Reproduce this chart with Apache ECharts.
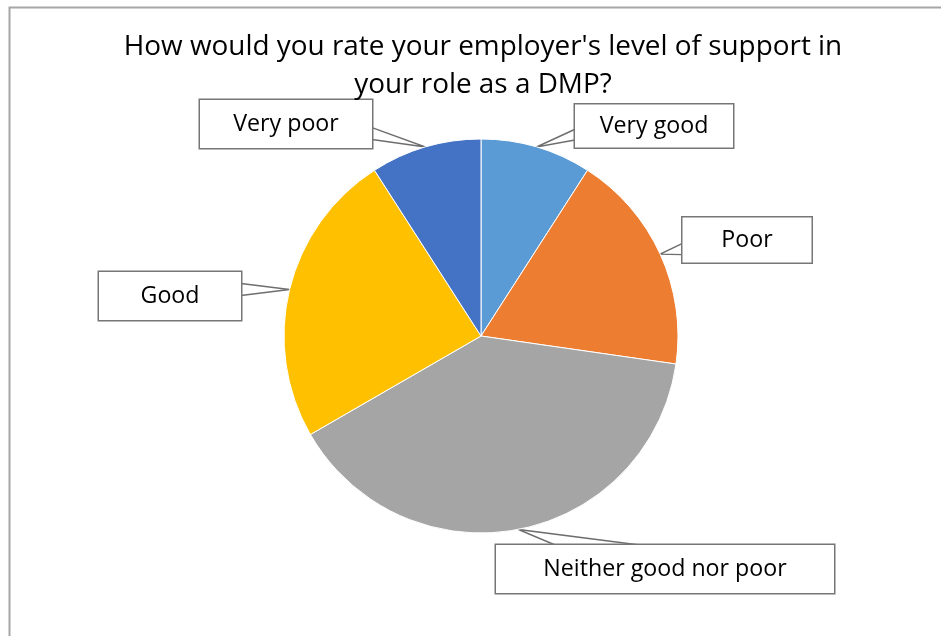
<!DOCTYPE html>
<html>
<head>
<meta charset="utf-8">
<script src="https://cdn.jsdelivr.net/npm/echarts@6/dist/echarts.min.js"></script>
<style>
html,body{margin:0;padding:0;background:#fff}
#main{width:941px;height:636px}
</style>
</head>
<body>
<div id="main"></div>
<script>
var titleText = "How would you rate your employer's level of support in\nyour role as a DMP?"
var cats = ['Very good','Poor','Neither good nor poor','Good','Very poor']
var counts = [3,6,13,8,3]
var colors = ['#5B9BD5','#ED7D31','#A5A5A5','#FFC000','#4472C4']
// callout box centre and size for each slice label
var boxCenter = [[654,126],[747,240],[665,569],[170,296],[286,124]]
var boxSize = [[158,43],[129,45],[338,48],[142,48],[172,48]]
var topPad = 7

var chart = echarts.init(document.getElementById('main'))

var pieData = []
for(var i = 0; i < cats.length; i++){
    var h = boxSize[i][1]-topPad
    pieData.push({
        name:cats[i],
        value:counts[i],
        itemStyle:{color:colors[i]},
        label:{width:boxSize[i][0],height:h,lineHeight:h}
    })
}

function clamp(v,a,b){
    return Math.min(Math.max(v,a),b)
}

chart.setOption({
    animation:false,
    title:{
        text:titleText,
        left:478,
        textAlign:'center',
        top:23,
        textStyle:{
            fontFamily:'Open Sans',
            fontSize:27.9,
            fontWeight:'normal',
            color:'#000',
            lineHeight:38
        }
    },
    graphic:[{
        type:'rect',
        shape:{x:9.5,y:7.5,width:1000,height:1000},
        style:{fill:'none',stroke:'#a6a6a6',lineWidth:2}
    }],
    series:[{
        type:'pie',
        center:[481,336],
        radius:197,
        startAngle:90,
        clockwise:true,
        data:pieData,
        itemStyle:{borderColor:'#fff',borderWidth:1},
        emphasis:{disabled:true},
        label:{
            show:true,
            formatter:'{b}',
            fontFamily:'Open Sans',
            fontSize:23.2,
            color:'#000',
            align:'center',
            backgroundColor:'#fff',
            borderColor:'#767676',
            borderWidth:1.5,
            padding:[topPad,0,0,0]
        },
        labelLine:{
            show:true,
            length:0,
            length2:0,
            lineStyle:{color:'#6e6e6e',width:1.5}
        },
        labelLayout:function(p){
            var i = p.dataIndex
            var c = boxCenter[i]
            var s = boxSize[i]
            var tip = p.labelLinePoints[0]
            var x0 = c[0]-s[0]/2, x1 = c[0]+s[0]/2
            var y0 = c[1]-s[1]/2, y1 = c[1]+s[1]/2
            var a, b
            // callout wedge: two lines from the slice edge to the box side
            if(tip[0] < x0 || tip[0] > x1){
                var ex = tip[0] < x0 ? x0 : x1
                var my = clamp(tip[1],c[1]-s[1]*0.2,c[1]+s[1]*0.2)
                a = [ex,my-s[1]*0.125]
                b = [ex,my+s[1]*0.125]
            }else{
                var ey = tip[1] < y0 ? y0 : y1
                var mx = clamp(tip[0],c[0]-s[0]*0.2,c[0]+s[0]*0.2)
                a = [mx-s[0]*0.125,ey]
                b = [mx+s[0]*0.125,ey]
            }
            return {x:c[0],y:c[1],align:'center',verticalAlign:'middle',
                labelLinePoints:[a,tip,b]}
        }
    }]
})
</script>
</body>
</html>
